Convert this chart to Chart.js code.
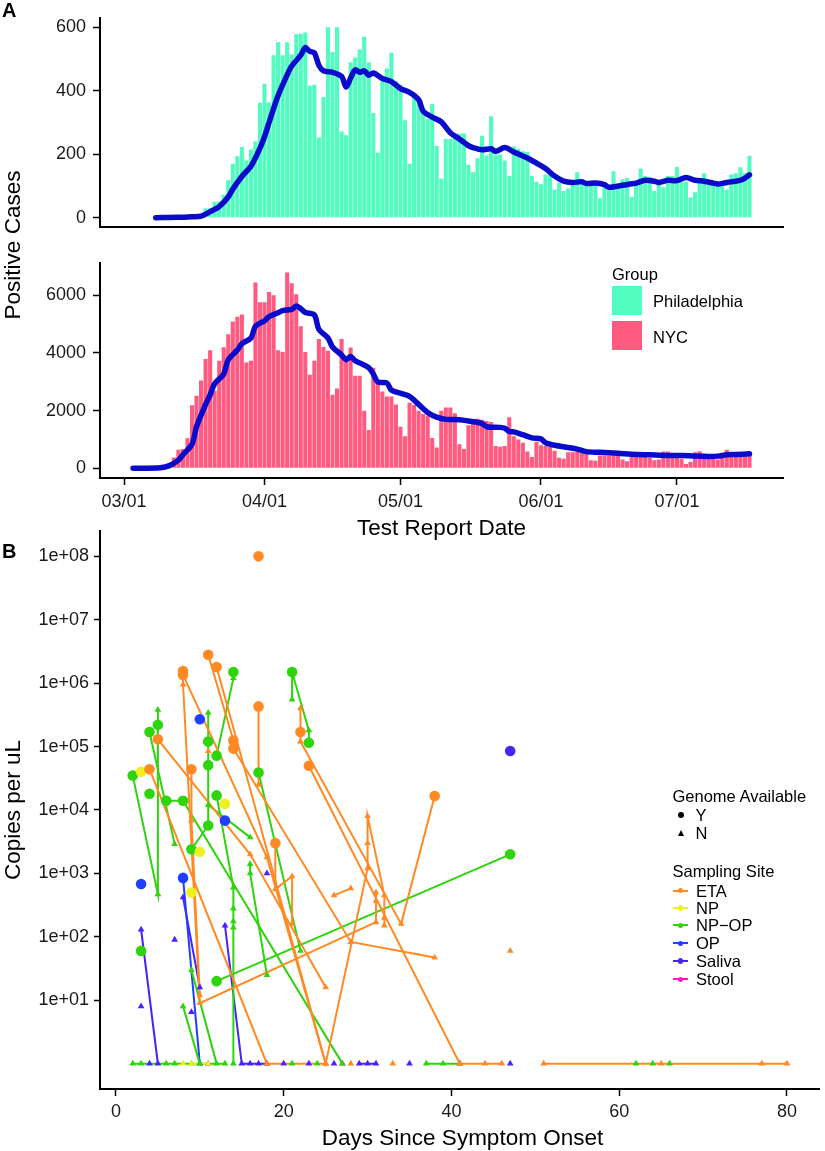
<!DOCTYPE html>
<html>
<head>
<meta charset="utf-8">
<script src="https://cdn.jsdelivr.net/npm/chart.js@4.4.1/dist/chart.umd.min.js"></script>
<style>
  body { margin: 0; background: #fff; }
  #page { position: relative; width: 825px; height: 1151px; font-family: "Liberation Sans", Arial, sans-serif; color: #000; overflow: hidden; }
  canvas { position: absolute; left: 0; }
  .lbl { position: absolute; line-height: 1; white-space: nowrap; transform: translateY(-50%); }
  .mid { transform: translate(-50%, -50%); }
  .rot { transform: translate(-50%, -50%) rotate(-90deg); }
  .title { font-size: 22.5px; }
  .leg { font-size: 16.5px; }
  .tag { font-size: 20px; font-weight: bold; }
  .sw { position: absolute; }
</style>
</head>
<body>
<div id="page">
  <canvas id="phlCanvas" width="825" height="245" style="top:0"></canvas>
  <canvas id="nycCanvas" width="825" height="270" style="top:245px"></canvas>
  <canvas id="onsetCanvas" width="825" height="636" style="top:515px"></canvas>

  <div class="lbl tag" style="left:2px; top:10px;">A</div>
  <div class="lbl tag" style="left:2px; top:551px;">B</div>
  <div class="lbl title rot" style="left:12.5px; top:245px;">Positive Cases</div>
  <div class="lbl title mid" style="left:441.5px; top:528px;">Test Report Date</div>
  <div class="lbl title rot" style="left:12.5px; top:810px;">Copies per uL</div>
  <div class="lbl title mid" style="left:462.5px; top:1138px;">Days Since Symptom Onset</div>

  <div class="lbl leg" style="left:612px; top:273.5px;">Group</div>
  <div class="sw" style="left:612px; top:286px; width:29.5px; height:29px; background:#52FBBF;"></div>
  <div class="sw" style="left:612px; top:321px; width:29.5px; height:29px; background:#FF5A80;"></div>
  <div class="lbl leg" style="left:653px; top:301px;">Philadelphia</div>
  <div class="lbl leg" style="left:653px; top:336.5px;">NYC</div>

  <div class="lbl leg" style="left:672.5px; top:796px;">Genome Available</div>
  <div class="sw" style="left:678px; top:812.3px; width:6px; height:6px; border-radius:50%; background:#000;"></div>
  <div class="sw" style="left:677.5px; top:830.3px; width:0; height:0; border-left:3.5px solid transparent; border-right:3.5px solid transparent; border-bottom:6px solid #000;"></div>
  <div class="lbl leg" style="left:695.5px; top:815.3px;">Y</div>
  <div class="lbl leg" style="left:695.5px; top:833.3px;">N</div>

  <div class="lbl leg" style="left:672.5px; top:871px;">Sampling Site</div>
  <div id="siteLegend"></div>
</div>

<script>
// Panel A: daily positive cases, day 0 = 03/01
const DATE_TICK_DAYS = [0, 31, 61, 92, 122];
const DATE_TICK_LABELS = ["03/01", "04/01", "05/01", "06/01", "07/01"];

const PHL_START = 16;
const phlCases = [
  8, 10, 30, 30, 50, 50, 72, 118, 170, 194,
  223, 180, 215, 240, 362, 422, 363, 512, 553, 512,
  553, 514, 578, 580, 584, 416, 419, 253, 380, 600,
  522, 600, 272, 260, 490, 505, 530, 570, 490, 330,
  205, 430, 470, 520, 430, 419, 307, 170, 385, 375,
  336, 312, 358, 226, 123, 248, 248, 258, 265, 265,
  167, 143, 187, 258, 196, 320, 199, 199, 180, 131,
  224, 217, 209, 207, 131, 113, 105, 136, 136, 88,
  109, 84, 92, 104, 143, 104, 104, 107, 104, 61,
  102, 92, 146, 104, 121, 125, 66, 113, 154, 131,
  128, 84, 104, 96, 131, 131, 160, 121, 113, 64,
  80, 121, 140, 102, 102, 102, 99, 88, 136, 140,
  159, 141, 195
];
// smoothed trend: [day, cases]
const phlTrend = [
  [7, 0], [12, 1], [15, 3], [17, 5], [19, 19], [21, 35], [23, 65], [24, 90], [26, 130], [28, 162],
  [30, 219], [31, 255], [32, 300], [34, 385], [36, 450], [37, 478], [39, 512], [40, 536], [41, 524], [42, 520],
  [43, 480], [44, 463], [46, 458], [48, 445], [49, 412], [50, 440], [51, 466], [52, 458], [53, 463], [54, 449],
  [55, 456], [57, 439], [59, 429], [61, 407], [63, 395], [65, 372], [66, 336], [68, 317], [70, 302], [72, 268],
  [74, 248], [76, 227], [77, 221], [79, 214], [81, 217], [82, 209], [84, 221], [86, 207], [87, 201], [89, 188],
  [91, 172], [93, 155], [95, 131], [97, 115], [99, 111], [101, 113], [102, 108], [104, 109], [106, 104], [107, 96],
  [110, 102], [112, 107], [113, 109], [115, 118], [117, 115], [118, 111], [120, 118], [122, 117], [124, 127], [126, 118],
  [128, 115], [130, 109], [131, 106], [133, 111], [135, 115], [136, 118], [137, 125], [138, 135]
];
const PHL_Y_TICKS = [0, 200, 400, 600];

const NYC_START = 11;
const nycCases = [
  376, 642, 664, 1040, 2180, 2513, 3044, 3786, 4096, 2690,
  3730, 4200, 4650, 5092, 5258, 5336, 3664, 3730, 6443, 5756,
  5756, 6110, 6000, 4096, 4030, 6786, 6420, 6033, 4926, 4030,
  3243, 3730, 4483, 4206, 4074, 2546, 2767, 4483, 3764, 4184,
  3210, 3210, 1993, 1328, 3487, 3077, 2657, 2491, 2491, 2214,
  1439, 1107, 2269, 2192, 1993, 1882, 1826, 1052, 720, 1993,
  2103, 2103, 1904, 830, 664, 1494, 1660, 1716, 1683, 1638,
  1605, 775, 742, 775, 1771, 1107, 996, 886, 576, 387,
  908, 797, 775, 742, 609, 365, 332, 553, 553, 576,
  531, 498, 277, 255, 443, 443, 443, 443, 443, 299,
  244, 420, 410, 387, 387, 365, 277, 299, 576, 576,
  443, 387, 332, 144, 221, 553, 587, 498, 465, 365,
  299, 487, 642, 498, 465, 498, 531, 520
];
const nycTrend = [
  [2, 0], [8, 20], [10, 90], [12, 280], [13, 470], [15, 830], [16, 1440], [18, 2214], [19, 2546], [20, 2934],
  [22, 3266], [23, 3764], [25, 4096], [26, 4317], [28, 4517], [29, 4926], [31, 5114], [32, 5258], [34, 5391], [35, 5469],
  [37, 5513], [38, 5624], [39, 5535], [40, 5402], [42, 5314], [43, 4815], [45, 4517], [46, 4207], [48, 3930], [49, 3764],
  [50, 3875], [51, 3731], [52, 3653], [54, 3487], [55, 3266], [56, 2989], [58, 2956], [59, 2712], [61, 2600], [63, 2491],
  [65, 2214], [67, 1937], [69, 1771], [71, 1694], [74, 1683], [76, 1638], [79, 1550], [80, 1439], [83, 1417], [84, 1384],
  [85, 1273], [86, 1262], [88, 1162], [90, 1052], [92, 1018], [93, 886], [95, 797], [98, 720], [100, 664], [102, 576],
  [105, 553], [109, 520], [112, 487], [116, 465], [120, 443], [123, 443], [126, 420], [129, 410], [131, 420], [133, 465],
  [135, 476], [138, 498]
];
const NYC_Y_TICKS = [0, 2000, 4000, 6000];

// Panel B: one track per patient and site, points are [day, copies per uL, genome available]
const etaTracks = [
  [[17, 1e8, "Y"]],
  [[8, 1.55e6, "Y"], [8, 9.5e5, "N"], [10, 9, "N"], [31, 170, "N"], [31, 370, "N"], [31, 500, "N"]],
  [[8, 1.35e6, "Y"], [18, 1800, "N"], [25, 1, "N"]],
  [[12, 1.8e6, "Y"], [25, 1, "N"], [30, 1200, "N"], [30, 3000, "N"], [30, 8000, "N"], [32, 450, "N"], [32, 200, "N"], [32, 150, "N"]],
  [[11, 2.8e6, "Y"], [14, 1.25e5, "Y"], [14, 9.3e4, "Y"], [28, 83, "N"], [38, 47, "N"]],
  [[5, 1.3e5, "Y"], [16, 2000, "N"], [25, 16, "N"]],
  [[22, 4e5, "N"], [22, 1.7e5, "Y"], [22, 1.2e5, "N"], [34, 160, "N"], [38, 1.66e4, "Y"]],
  [[23, 5e4, "Y"], [41, 1, "N"], [44, 1, "N"], [46, 1, "N"]],
  [[17, 4.3e5, "Y"], [17, 2.5e4, "N"]],
  [[9, 4.4e4, "Y"], [9, 6800, "N"], [10, 12, "N"]],
  [[4, 4.4e4, "Y"], [18, 1, "N"], [25, 1, "N"]],
  [[19, 3000, "Y"], [19, 560, "N"], [21, 900, "N"], [21, 160, "N"]],
  [[26, 450, "N"], [28, 580, "N"]],
  [[11, 8.5e4, "N"]],
  [[47, 60, "N"]],
  [[28, 1, "N"]],
  [[33, 1, "N"]],
  [[51, 1, "N"], [65, 1, "N"], [77, 1, "N"], [80, 1, "N"]]
];
const npTracks = [
  [[3, 4e4, "Y"]],
  [[13, 1.25e4, "Y"]],
  [[10, 2200, "Y"]],
  [[9, 500, "Y"]],
  [[8, 1, "N"]],
  [[9, 1, "N"], [11, 1, "N"]]
];
const npopTracks = [
  [[2, 3.5e4, "Y"], [5, 470, "N"], [5, 2.2e5, "Y"], [5, 3.8e5, "N"]],
  [[4, 1.7e5, "Y"], [7, 2900, "N"]],
  [[4, 1.8e4, "Y"]],
  [[6, 1.4e4, "Y"], [8, 1.4e4, "Y"], [27, 1, "N"]],
  [[9, 2400, "Y"], [11, 5700, "Y"], [11, 5.1e4, "Y"], [11, 1.2e5, "Y"], [11, 3.4e5, "N"]],
  [[11, 1.2e4, "N"], [16, 3700, "N"]],
  [[12, 7.2e4, "Y"], [14, 1.2e6, "N"], [14, 1.5e6, "Y"]],
  [[12, 1.7e4, "Y"], [14, 600, "N"], [14, 280, "N"], [14, 175, "N"], [14, 140, "N"], [14, 1, "N"]],
  [[12, 20, "Y"], [47, 2000, "Y"]],
  [[17, 3.9e4, "Y"], [22, 60, "N"]],
  [[16, 1400, "N"], [16, 1000, "N"], [18, 25, "N"]],
  [[21, 5.5e5, "N"], [21, 1.5e6, "Y"], [23, 1.8e5, "N"], [23, 1.15e5, "Y"]],
  [[3, 60, "Y"]],
  [[8, 8, "N"], [10, 1, "N"]],
  [[9, 30, "N"], [12, 1, "N"]],
  [[2, 1, "N"], [3, 1, "N"], [6, 1, "N"], [7, 1, "N"], [9, 1, "N"], [13, 1, "N"]],
  [[21, 1, "N"]],
  [[24, 1, "N"]],
  [[37, 1, "N"], [39, 1, "N"], [41, 1, "N"]],
  [[62, 1, "N"]],
  [[64, 1, "N"]],
  [[66, 1, "N"]]
];
const opTracks = [
  [[10, 2.7e5, "Y"]],
  [[13, 6800, "Y"]],
  [[3, 680, "Y"]],
  [[8, 850, "Y"], [10, 1, "N"]]
];
const salivaTracks = [
  [[3, 130, "N"], [5, 1, "N"]],
  [[3, 8, "N"]],
  [[7, 90, "N"]],
  [[8, 420, "N"], [10, 16, "N"]],
  [[9, 6.5, "N"]],
  [[13, 150, "N"], [15, 1, "N"], [16, 1, "N"], [17, 1, "N"], [18, 1, "N"]],
  [[18, 1000, "N"]],
  [[29, 1, "N"], [30, 1, "N"], [31, 1, "N"]],
  [[47, 8.5e4, "Y"]],
  [[4, 1, "N"]], [[11, 1, "N"]], [[20, 1, "N"]], [[23, 1, "N"]], [[26, 1, "N"]], [[35, 1, "N"]], [[47, 1, "N"]]
];
const stoolTracks = [
  [[27, 1, "N"]],
  [[41, 1, "N"]]
];
const DAY_TICKS = [0, 20, 40, 60, 80];
const COPY_TICKS = [1e1, 1e2, 1e3, 1e4, 1e5, 1e6, 1e7, 1e8];
const COPY_TICK_LABELS = ["1e+01", "1e+02", "1e+03", "1e+04", "1e+05", "1e+06", "1e+07", "1e+08"];

const SITES = ["ETA", "NP", "NP\u2212OP", "OP", "Saliva", "Stool"];
const SITE_COLORS = ["#FF8A24", "#F0F01E", "#2ED40C", "#2040FF", "#4A22FF", "#FF19C8"];
const SITE_TRACKS = [etaTracks, npTracks, npopTracks, opTracks, salivaTracks, stoolTracks];

Chart.defaults.font.family = '"Liberation Sans", Arial, sans-serif';
Chart.defaults.color = "#1a1a1a";
Chart.defaults.animation = false;

const TICK_FONT = { size: 18 };

function yAxis(extra, ticks, labels, tickLen, pad) {
  return Object.assign({
    bounds: "data",
    afterFit: (s) => { s.width = 100; },
    afterBuildTicks: (s) => { s.ticks = ticks.map(v => ({ value: v })); },
    grid: { display: true, drawOnChartArea: false, drawTicks: true, offset: false, tickLength: tickLen, tickColor: "#000", tickWidth: 1.5 },
    border: { display: true, color: "#000", width: 2 },
    ticks: { font: TICK_FONT, padding: pad, callback: (v, i) => labels[i] },
  }, extra);
}

function dateAxis(showLabels, height) {
  return {
    type: "linear", min: -5.3, max: 145.4, offset: false, bounds: "data",
    afterFit: (s) => { s.height = height; },
    afterBuildTicks: (s) => { s.ticks = DATE_TICK_DAYS.map(v => ({ value: v })); },
    grid: { display: showLabels, drawOnChartArea: false, drawTicks: showLabels, offset: false, tickLength: 7, tickColor: "#000", tickWidth: 1.5 },
    border: { display: true, color: "#000", width: 2 },
    ticks: { display: showLabels, font: TICK_FONT, padding: 6, autoSkip: false, maxRotation: 0,
             callback: (v, i) => DATE_TICK_LABELS[i] },
  };
}

function casesChart(canvasId, start, cases, trend, barColor, yMin, yMax, yTicks, top, xHeight, showDates) {
  return new Chart(document.getElementById(canvasId), {
    type: "bar",
    data: {
      datasets: [
        {
          type: "line",
          data: trend.map(([d, v]) => ({ x: d, y: v })),
          borderColor: "#0B0BCB",
          borderWidth: 5.5,
          borderCapStyle: "round",
          borderJoinStyle: "round",
          pointRadius: 0,
          tension: 0.3,
          order: 0,
        },
        {
          data: cases.map((v, i) => ({ x: start + i, y: v })),
          backgroundColor: barColor,
          categoryPercentage: 1,
          barPercentage: 0.9,
          order: 1,
        },
      ],
    },
    options: {
      responsive: false,
      devicePixelRatio: 1,
      layout: { padding: { top: top, right: 42, left: 0, bottom: 0 } },
      plugins: { legend: { display: false }, tooltip: { enabled: false } },
      scales: {
        x: dateAxis(showDates, xHeight),
        y: yAxis({ min: yMin, max: yMax }, yTicks, yTicks.map(String), 7, 7),
      },
    },
  });
}

casesChart("phlCanvas", PHL_START, phlCases, phlTrend, "#52FBBF", -30, 630, PHL_Y_TICKS, 13, 7, false);
casesChart("nycCanvas", NYC_START, nycCases, nycTrend, "#FF5A80", -339, 7125, NYC_Y_TICKS, 9, 37, true);

// Panel B datasets: lines first (drawn underneath), then the points on top
const onsetSets = [];
SITE_TRACKS.forEach((tracks, s) => {
  const color = SITE_COLORS[s];
  tracks.forEach(track => {
    const pts = track.map(([day, copies, genome]) => ({ x: day, y: copies, genome }));
    if (pts.length > 1) {
      onsetSets.push({ data: pts, showLine: true, borderColor: color, borderWidth: 2, pointRadius: 0, tension: 0, order: 2 });
    }
    onsetSets.push({
      data: pts,
      showLine: false,
      backgroundColor: color,
      borderColor: color,
      pointBorderWidth: 0,
      pointStyle: (c) => (c.raw && c.raw.genome === "Y") ? "circle" : "triangle",
      pointRadius: (c) => (c.raw && c.raw.genome === "Y") ? 5.3 : 3.9,
      order: 1,
    });
  });
});

new Chart(document.getElementById("onsetCanvas"), {
  type: "scatter",
  data: { datasets: onsetSets },
  options: {
    responsive: false,
    devicePixelRatio: 1,
    layout: { padding: { top: 16, right: 0, left: 0, bottom: 0 } },
    plugins: { legend: { display: false }, tooltip: { enabled: false } },
    scales: {
      x: {
        type: "linear", min: -1.9, max: 83.9, bounds: "data",
        afterFit: (s) => { s.height = 62; },
        afterBuildTicks: (s) => { s.ticks = DAY_TICKS.map(v => ({ value: v })); },
        grid: { display: true, drawOnChartArea: false, drawTicks: true, tickLength: 7, tickColor: "#000", tickWidth: 1.5 },
        border: { display: true, color: "#000", width: 2 },
        ticks: { font: TICK_FONT, padding: 5, autoSkip: false, maxRotation: 0, callback: (v) => String(v) },
      },
      y: yAxis({ type: "logarithmic", min: 0.398, max: 2.512e8 }, COPY_TICKS, COPY_TICK_LABELS, 6, 5),
    },
  },
});

// Sampling Site legend keys
const siteLegend = document.getElementById("siteLegend");
const SITE_KEY_Y = [890.7, 908, 925.3, 943.3, 961, 979.3];
SITES.forEach((name, i) => {
  const y = SITE_KEY_Y[i];
  siteLegend.insertAdjacentHTML("beforeend", `
    <div class="sw" style="left:673px; top:${y - 1}px; width:15px; height:2px; background:${SITE_COLORS[i]};"></div>
    <div class="sw" style="left:678px; top:${y - 2.6}px; width:5.2px; height:5.2px; border-radius:50%; background:${SITE_COLORS[i]};"></div>
    <div class="lbl leg" style="left:696px; top:${y}px;">${name}</div>`);
});
</script>
</body>
</html>
